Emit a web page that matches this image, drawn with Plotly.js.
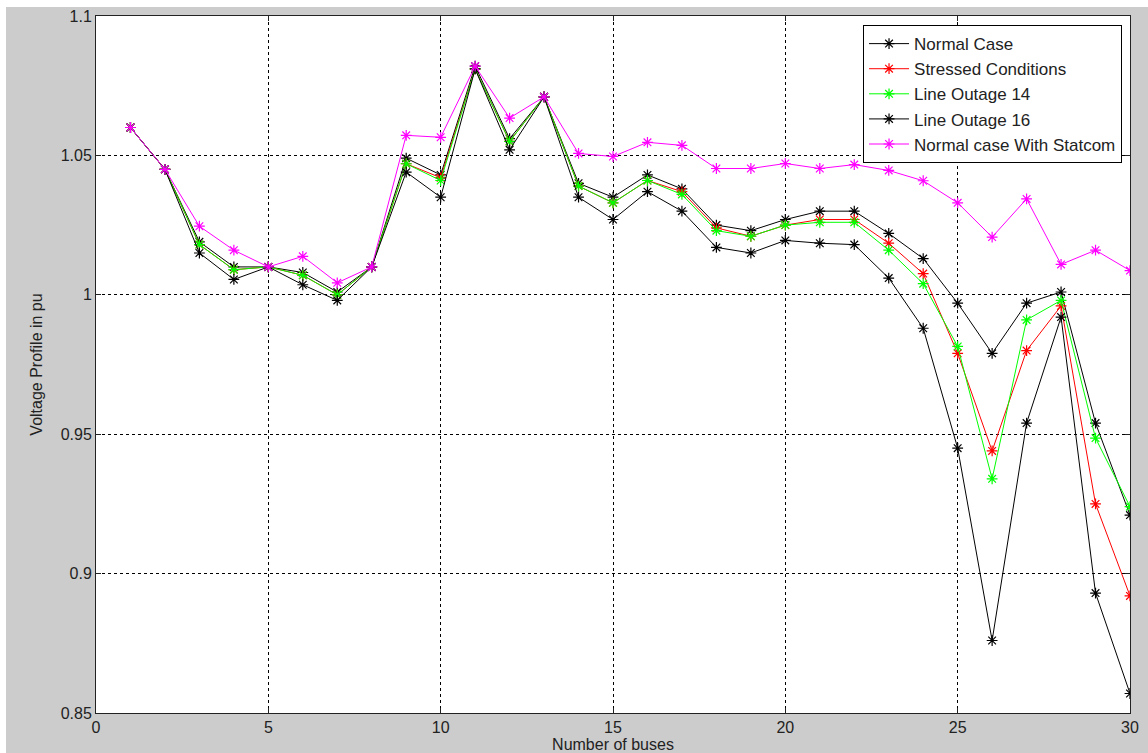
<!DOCTYPE html>
<html>
<head>
<meta charset="utf-8">
<script src="https://cdn.plot.ly/plotly-3.0.1.min.js"></script>
<style>
html,body{margin:0;padding:0;background:#ffffff;width:1148px;height:753px;overflow:hidden;}
#chart{position:absolute;left:6px;top:7px;width:1142px;height:746px;}
</style>
</head>
<body>
<div id="chart"></div>
<script>
const buses = [1,2,3,4,5,6,7,8,9,10,11,12,13,14,15,16,17,18,19,20,21,22,23,24,25,26,27,28,29,30];
const seriesNames = ["Normal Case","Stressed Conditions","Line Outage 14","Line Outage 16","Normal case With Statcom"];
const normalCase = [1.060,1.045,1.019,1.010,1.010,1.008,1.001,1.010,1.049,1.043,1.082,1.056,1.071,1.040,1.035,1.043,1.038,1.025,1.023,1.027,1.030,1.030,1.022,1.013,0.997,0.979,0.997,1.001,0.954,0.921];
const stressed   = [1.060,1.045,1.018,1.009,1.010,1.007,1.000,1.010,1.047,1.042,1.081,1.055,1.071,1.039,1.033,1.041,1.037,1.024,1.021,1.025,1.027,1.027,1.0185,1.0076,0.979,0.944,0.980,0.996,0.925,0.892];
const outage14   = [1.060,1.045,1.018,1.009,1.010,1.007,1.000,1.010,1.047,1.041,1.081,1.055,1.071,1.039,1.033,1.041,1.036,1.023,1.021,1.025,1.026,1.026,1.016,1.004,0.9815,0.934,0.991,0.998,0.9486,0.924];
const outage16   = [1.060,1.045,1.015,1.0055,1.010,1.0036,0.998,1.010,1.044,1.035,1.081,1.052,1.071,1.035,1.027,1.037,1.030,1.017,1.015,1.0195,1.0185,1.018,1.006,0.988,0.945,0.876,0.954,0.992,0.893,0.857];
const statcom    = [1.060,1.045,1.0246,1.016,1.010,1.0138,1.0043,1.010,1.0572,1.0565,1.082,1.0634,1.071,1.0507,1.0496,1.0547,1.0536,1.0453,1.0453,1.0471,1.0453,1.0467,1.0446,1.0409,1.033,1.0207,1.0344,1.0109,1.016,1.0087];
const xTicks = [0,5,10,15,20,25,30];
const yTicks = [0.85,0.9,0.95,1,1.05,1.1];
const yTickText = ["0.85","0.9","0.95","1","1.05","1.1"];

const allValues = [normalCase, stressed, outage14, outage16, statcom];
const colors = ["#000000","#ff0000","#00ff00","#000000","#ff00ff"];

const traces = allValues.map((vals, i) => ({
  x: buses,
  y: vals,
  name: seriesNames[i],
  legendgroup: "g" + i,
  type: "scatter",
  mode: "lines+markers",
  line: {color: colors[i], width: 1},
  marker: {symbol: "asterisk-open", size: 9, color: colors[i], line: {color: colors[i], width: 1.2}}
}));

const axisCommon = {
  showline: true, linecolor: "#222222", linewidth: 1, mirror: "ticks",
  ticks: "inside", ticklen: 5, tickcolor: "#222222",
  showgrid: true, gridcolor: "#000000", gridwidth: 1, griddash: "3px,3px",
  zeroline: false,
  tickfont: {family: "Liberation Sans, Arial, sans-serif", size: 16, color: "#222222"}
};

const layout = {
  width: 1142, height: 746,
  paper_bgcolor: "#cccccc",
  plot_bgcolor: "#ffffff",
  margin: {l: 90, r: 18, t: 9, b: 40},
  showlegend: true,
  font: {family: "Liberation Sans, Arial, sans-serif", size: 16, color: "#222222"},
  xaxis: Object.assign({}, axisCommon, {
    range: [0, 30], tickvals: xTicks, ticktext: xTicks.map(String),
    title: {text: "Number of buses", standoff: 2, font: {size: 16, color: "#222222"}}
  }),
  yaxis: Object.assign({}, axisCommon, {
    range: [0.85, 1.1], tickvals: yTicks, ticktext: yTickText,
    title: {text: "Voltage Profile in pu", standoff: 14, font: {size: 16, color: "#222222"}}
  }),
  legend: {
    x: 0.9923, xanchor: "right", y: 0.987, yanchor: "top",
    bgcolor: "#ffffff", bordercolor: "#000000", borderwidth: 1,
    traceorder: "grouped", tracegroupgap: 0,
    font: {size: 17, color: "#222222"},
    itemwidth: 40
  }
};

Plotly.newPlot("chart", traces, layout, {displayModeBar: false, staticPlot: true});
</script>
</body>
</html>
